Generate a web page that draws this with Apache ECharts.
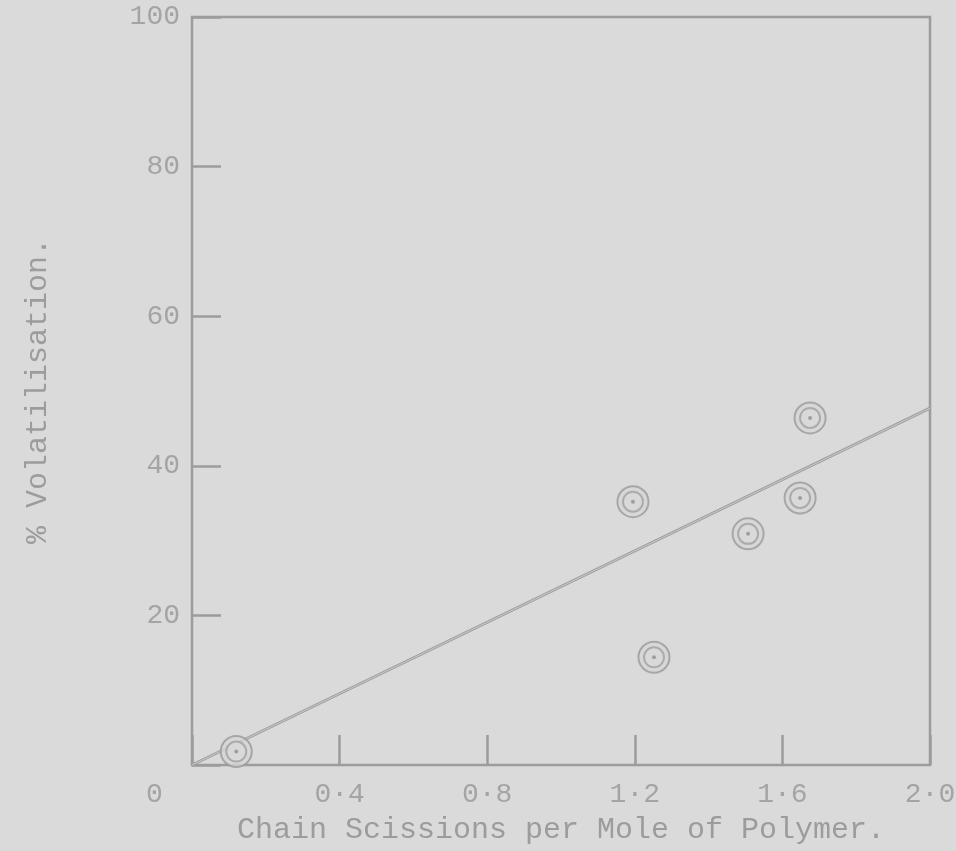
<!DOCTYPE html>
<html>
<head>
<meta charset="utf-8">
<script src="https://cdn.jsdelivr.net/npm/echarts@6/dist/echarts.min.js"></script>
<style>
  html, body { margin: 0; padding: 0; background: #dadada; }
  #chart { width: 956px; height: 851px; }
</style>
</head>
<body>
<div id="chart"></div>
<script>
// Measured points: chain scissions per mole vs. % volatilisation
var chainScissions = [0.12, 1.195, 1.252, 1.507, 1.648, 1.675];
var volatilisation = [1.8, 35.2, 14.4, 30.9, 35.7, 46.4];

// Straight line drawn through the origin
var fitX = [0, 2.0];
var fitY = [0, 47.7];

var xTicks = [0, 0.4, 0.8, 1.2, 1.6, 2.0];
var yTicks = [0, 20, 40, 60, 80, 100];

var points = chainScissions.map(function (x, i) { return [x, volatilisation[i]]; });
var fitLine = fitX.map(function (x, i) { return [x, fitY[i]]; });

var ink = '#9c9c9c';
var labelInk = '#a4a4a4';
var font = 'Liberation Mono';

var chart = echarts.init(document.getElementById('chart'), null, { renderer: 'canvas' });
chart.setOption({
  backgroundColor: '#dadada',
  animation: false,
  grid: {
    left: 192, right: 26, top: 17, bottom: 86,
    outerBoundsMode: 'none', containLabel: false,
    show: true, borderColor: ink, borderWidth: 2.5, backgroundColor: 'transparent'
  },
  xAxis: {
    type: 'value',
    min: xTicks[0], max: xTicks[xTicks.length - 1], interval: 0.4,
    axisLine: { show: false },
    axisTick: { show: true, inside: true, length: 30, lineStyle: { color: ink, width: 2.5 } },
    splitLine: { show: false },
    axisLabel: {
      margin: 16, color: labelInk, fontFamily: font, fontSize: 28,
      formatter: function (v) { return v === 0 ? '' : v.toFixed(1).replace('.', '\u00b7'); }
    },
    name: 'Chain Scissions per Mole of Polymer.',
    nameLocation: 'middle', nameGap: 50,
    nameTextStyle: { color: '#9c9c9c', fontFamily: font, fontSize: 30 }
  },
  yAxis: {
    type: 'value',
    min: yTicks[0], max: yTicks[yTicks.length - 1], interval: 20,
    axisLine: { show: false },
    axisTick: { show: true, inside: true, length: 29, lineStyle: { color: ink, width: 2.5 } },
    splitLine: { show: false },
    axisLabel: {
      margin: 12, color: labelInk, fontFamily: font, fontSize: 28,
      formatter: function (v) { return v === 0 ? '' : String(v); }
    },
    name: '% Volatilisation.',
    nameLocation: 'middle', nameGap: 139, nameRotate: 90,
    nameTextStyle: { color: '#9c9c9c', fontFamily: font, fontSize: 30 }
  },
  graphic: [{
    type: 'text', left: 146, top: 781,
    style: { text: '0', fill: labelInk, font: '28px "Liberation Mono"' }
  }],
  series: [
    {
      type: 'line', data: fitLine, symbol: 'none',
      lineStyle: { color: '#a0a0a0', width: 3 }, z: 2
    },
    {
      type: 'line', data: fitLine, symbol: 'none',
      lineStyle: { color: '#c8c8c8', width: 1 }, z: 3
    },
    {
      type: 'scatter', data: points, symbol: 'circle', symbolSize: 31,
      itemStyle: { color: '#d6d6d6', borderColor: '#9a9a9a', borderWidth: 2 }, z: 4
    },
    {
      type: 'scatter', data: points, symbol: 'circle', symbolSize: 20,
      itemStyle: { color: '#d9d9d9', borderColor: '#a0a0a0', borderWidth: 2 }, z: 5
    },
    {
      type: 'scatter', data: points, symbol: 'circle', symbolSize: 4,
      itemStyle: { color: '#8e8e8e' }, z: 6
    }
  ]
});
</script>
</body>
</html>
